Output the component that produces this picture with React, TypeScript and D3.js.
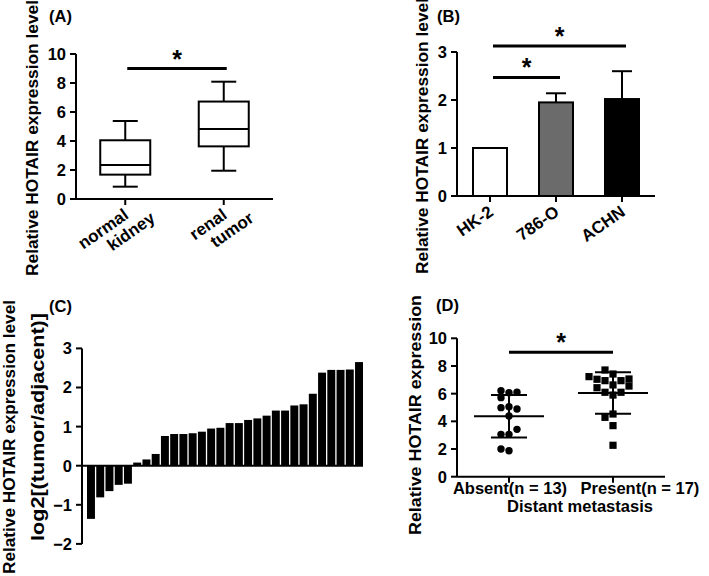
import * as d3 from 'd3';

const FONT = '"Liberation Sans", Arial, Helvetica, sans-serif';

// (A) box plot: HOTAIR in normal kidney vs renal tumor
const boxCats = ['normal kidney', 'renal tumor'];
const boxLabels = [['normal', 'kidney'], ['renal', 'tumor']];
const boxMin = [0.85, 1.95];
const boxQ1 = [1.68, 3.63];
const boxMed = [2.35, 4.83];
const boxQ3 = [4.05, 6.72];
const boxMax = [5.38, 8.09];
const boxTicks = [0, 2, 4, 6, 8, 10];

// (B) cell lines
const cellLines = ['HK-2', '786-O', 'ACHN'];
const cellMeans = [1.0, 1.95, 2.02];
const cellErr = [0, 0.19, 0.58];
const cellTicks = [0, 1, 2, 3];

// (C) log2 fold change per patient, sorted
const foldChange = [
  -1.36, -0.81, -0.65, -0.49, -0.46,
  0.08, 0.16, 0.3, 0.76, 0.81, 0.81, 0.83, 0.87, 0.95, 0.97,
  1.09, 1.09, 1.17, 1.21, 1.28, 1.41, 1.41, 1.54, 1.57, 1.84,
  2.38, 2.45, 2.45, 2.46, 2.65,
];
const foldTicks = [-2, -1, 0, 1, 2, 3];

// (D) distant metastasis
const metaGroups = ['Absent(n = 13)', 'Present(n = 17)'];
const absentVals = [6.07, 5.06, 4.39, 3.06, 1.88, 6.21, 6.1, 5.71, 4.99, 4.89, 3.06, 3.42, 2.0];
const presentVals = [7.42, 6.63, 5.9, 4.53, 3.69, 2.27, 7.71, 6.94, 6.1, 4.29, 6.94, 6.1, 7.04, 6.43, 7.06, 6.55, 7.23];
const metaTicks = [0, 2, 4, 6, 8, 10];

// significance brackets: [from index, to index, value]
const sigA = [[0, 1, 9]];
const sigB = [[0, 1, 2.47], [0, 2, 3.125]];
const sigD = [[0, 1, 9]];

const cellFill = ['#ffffff', '#6b6b6b', '#000000'];

const xA = d3.scalePoint().domain(boxCats).range([76, 273]).padding(0.5);
const yA = d3.scaleLinear().domain([0, 10]).range([199, 54]);

const xB = d3.scalePoint().domain(cellLines).range([457, 655]).padding(0.5);
const yB = d3.scaleLinear().domain([0, 3]).range([196, 52]);

const xC = d3.scaleBand().domain(d3.range(foldChange.length).map(String)).range([87, 363]).paddingInner(0.14);
const yC = d3.scaleLinear().domain([-2, 3]).range([543.9, 348.4]);

const xD = d3.scalePoint().domain(metaGroups).range([457, 665]).padding(0.5);
const yD = d3.scaleLinear().domain([0, 10]).range([476.7, 338.3]);

// simple swarm: push colliding points sideways in 8px steps
function swarm(vals: number[], cx: number, step = 8, minDist = 6.8) {
  const placed: { x: number; y: number }[] = [];
  const offs = [0, -1, 1, -2, 2, -3, 3, -4, 4];
  vals.forEach((v) => {
    const y = yD(v);
    for (const o of offs) {
      const x = cx + o * step;
      if (!placed.some((p) => Math.hypot(p.x - x, p.y - y) < minDist)) {
        placed.push({ x, y });
        return;
      }
    }
    placed.push({ x: cx, y });
  });
  return placed;
}

const YAxis = ({ x, scale, ticks }: any) => (
  <g>
    <line x1={x} x2={x} y1={scale(ticks[0])} y2={scale(ticks[ticks.length - 1])} stroke="#000" strokeWidth={2} />
    {ticks.map((t: number) => (
      <g key={t}>
        <line x1={x - 6} x2={x} y1={scale(t)} y2={scale(t)} stroke="#000" strokeWidth={2} />
        <text x={x - 10} y={scale(t)} dy="0.36em" textAnchor="end" fontWeight="bold" fontSize={16.5}>
          {t < 0 ? '\u2212' + Math.abs(t) : t}
        </text>
      </g>
    ))}
  </g>
);

const XAxis = ({ y, x1, x2, ticks }: any) => (
  <g>
    <line x1={x1} x2={x2} y1={y} y2={y} stroke="#000" strokeWidth={2} />
    {ticks.map((t: number, i: number) => (
      <line key={i} x1={t} x2={t} y1={y} y2={y + 6} stroke="#000" strokeWidth={2} />
    ))}
  </g>
);

const Sig = ({ x1, x2, y }: any) => (
  <g>
    <line x1={x1} x2={x2} y1={y} y2={y} stroke="#000" strokeWidth={3} />
    <text x={(x1 + x2) / 2} y={y - 1} textAnchor="middle" fontWeight="bold" fontSize={25}>*</text>
  </g>
);

const RotLabel = ({ x, y, lines }: any) => (
  <g transform={`translate(${x - 6},${y}) rotate(-35)`}>
    {lines.map((l: string, i: number) => (
      <text key={i} x={-2 + i * 20} y={21 + i * 18} textAnchor="end" fontWeight="bold" fontSize={17}>{l}</text>
    ))}
  </g>
);

const YTitle = ({ x, y, text, len, size = 17 }: any) => (
  <text transform={`translate(${x},${y}) rotate(-90)`} textAnchor="middle" fontWeight="bold" fontSize={size}
    textLength={len} lengthAdjust="spacingAndGlyphs">{text}</text>
);

export default function App() {
  const absPts = swarm(absentVals, xD(metaGroups[0])!);
  const prePts = swarm(presentVals, xD(metaGroups[1])!);
  const groups = [absentVals, presentVals];
  const barW = 34;
  const boxW = 50;

  return (
    <svg width={709} height={576} style={{ position: 'absolute', left: 0, top: 0, background: '#fff' }} fontFamily={FONT}>
      {/* (A) */}
      <text x={49} y={22} fontWeight="bold" fontSize={16.5}>(A)</text>
      <YTitle x={38} y={138} len={276} text="Relative HOTAIR expression level" />
      {boxCats.map((c, i) => {
        const cx = xA(c)!;
        return (
          <g key={c} stroke="#000" strokeWidth={2} fill="none">
            <line x1={cx} x2={cx} y1={yA(boxMax[i])} y2={yA(boxQ3[i])} />
            <line x1={cx} x2={cx} y1={yA(boxQ1[i])} y2={yA(boxMin[i])} />
            <line x1={cx - boxW / 4} x2={cx + boxW / 4} y1={yA(boxMax[i])} y2={yA(boxMax[i])} />
            <line x1={cx - boxW / 4} x2={cx + boxW / 4} y1={yA(boxMin[i])} y2={yA(boxMin[i])} />
            <rect x={cx - boxW / 2} y={yA(boxQ3[i])} width={boxW} height={yA(boxQ1[i]) - yA(boxQ3[i])} fill="#fff" />
            <line x1={cx - boxW / 2} x2={cx + boxW / 2} y1={yA(boxMed[i])} y2={yA(boxMed[i])} />
          </g>
        );
      })}
      <YAxis x={76} scale={yA} ticks={boxTicks} />
      <XAxis y={yA(0)} x1={76} x2={273} ticks={boxCats.map((c) => xA(c))} />
      {boxCats.map((c, i) => <RotLabel key={c} x={xA(c)} y={yA(0)} lines={boxLabels[i]} />)}
      {sigA.map(([a, b, v], i) => (
        <Sig key={i} x1={xA(boxCats[a])! + 2} x2={xA(boxCats[b])! + 3} y={yA(v)} />
      ))}

      {/* (B) */}
      <text x={437} y={22} fontWeight="bold" fontSize={16.5}>(B)</text>
      <YTitle x={428} y={136} len={276} text="Relative HOTAIR expression level" />
      {cellLines.map((c, i) => {
        const cx = xB(c)!;
        return (
          <g key={c} stroke="#000" strokeWidth={2}>
            {cellErr[i] > 0 && (
              <>
                <line x1={cx} x2={cx} y1={yB(cellMeans[i])} y2={yB(cellMeans[i] + cellErr[i])} />
                <line x1={cx - 10} x2={cx + 10} y1={yB(cellMeans[i] + cellErr[i])} y2={yB(cellMeans[i] + cellErr[i])} />
              </>
            )}
            <rect x={cx - barW / 2} y={yB(cellMeans[i])} width={barW} height={yB(0) - yB(cellMeans[i])} fill={cellFill[i]} />
          </g>
        );
      })}
      <YAxis x={457} scale={yB} ticks={cellTicks} />
      <XAxis y={yB(0)} x1={457} x2={655} ticks={cellLines.map((c) => xB(c))} />
      {cellLines.map((c) => <RotLabel key={c} x={xB(c)} y={yB(0)} lines={[c]} />)}
      {sigB.map(([a, b, v], i) => (
        <Sig key={i} x1={xB(cellLines[a])! + 3} x2={xB(cellLines[b])! + 4} y={yB(v)} />
      ))}

      {/* (C) */}
      <text x={49} y={312} fontWeight="bold" fontSize={16.5}>(C)</text>
      <YTitle x={15} y={437} len={274} text="Relative HOTAIR expression level" />
      <YTitle x={44} y={427} len={228} size={17.5} text="log2[(tumor/adjacent)]" />
      {foldChange.map((v, i) => (
        <rect key={i} x={xC(String(i))} width={xC.bandwidth()} y={Math.min(yC(v), yC(0))} height={Math.abs(yC(v) - yC(0))} fill="#000" />
      ))}
      <line x1={82} x2={363} y1={yC(0)} y2={yC(0)} stroke="#000" strokeWidth={2} />
      <YAxis x={82} scale={yC} ticks={foldTicks} />

      {/* (D) */}
      <text x={436} y={311} fontWeight="bold" fontSize={16.5}>(D)</text>
      <YTitle x={421} y={415} len={240} text="Relative HOTAIR expression" />
      {absPts.map((p, i) => <circle key={i} cx={p.x} cy={p.y} r={3.7} fill="#000" />)}
      {prePts.map((p, i) => <rect key={i} x={p.x - 3.6} y={p.y - 3.6} width={7.2} height={7.2} fill="#000" />)}
      {metaGroups.map((g, i) => {
        const cx = xD(g)!;
        const m = d3.mean(groups[i])!;
        const sd = d3.deviation(groups[i])!;
        return (
          <g key={g} stroke="#000" strokeWidth={2}>
            <line x1={cx - 35} x2={cx + 35} y1={yD(m)} y2={yD(m)} />
            <line x1={cx} x2={cx} y1={yD(m + sd)} y2={yD(m - sd)} />
            <line x1={cx - 18} x2={cx + 18} y1={yD(m + sd)} y2={yD(m + sd)} />
            <line x1={cx - 18} x2={cx + 18} y1={yD(m - sd)} y2={yD(m - sd)} />
          </g>
        );
      })}
      <YAxis x={457} scale={yD} ticks={metaTicks} />
      <XAxis y={yD(0)} x1={457} x2={665} ticks={metaGroups.map((g) => xD(g))} />
      {metaGroups.map((g, i) => (
        <text key={g} x={xD(g)! + (i === 0 ? 1 : 27)} y={494} textAnchor="middle" fontWeight="bold" fontSize={16.5}>{g}</text>
      ))}
      <text x={580} y={512} textAnchor="middle" fontWeight="bold" fontSize={16.5}>Distant metastasis</text>
      {sigD.map(([a, b, v], i) => (
        <Sig key={i} x1={xD(metaGroups[a])!} x2={xD(metaGroups[b])!} y={yD(v)} />
      ))}
    </svg>
  );
}
